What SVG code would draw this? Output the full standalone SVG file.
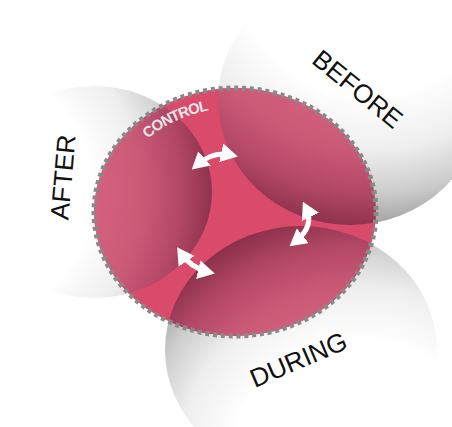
<svg xmlns="http://www.w3.org/2000/svg" width="452" height="427" viewBox="0 0 452 427">
<defs>
<radialGradient id="gA" gradientUnits="userSpaceOnUse" cx="-30" cy="192" r="245">
<stop offset="0" stop-color="#ffffff"/><stop offset="0.5" stop-color="#ffffff"/><stop offset="0.7" stop-color="#efefef"/><stop offset="0.86" stop-color="#cdcdcd"/><stop offset="1" stop-color="#9c9c9c"/>
</radialGradient>
<radialGradient id="pA" gradientUnits="userSpaceOnUse" cx="-30" cy="192" r="245">
<stop offset="0" stop-color="#d86684"/><stop offset="0.5" stop-color="#d4617f"/><stop offset="0.7" stop-color="#cb5a77"/><stop offset="0.86" stop-color="#b24866"/><stop offset="1" stop-color="#8c304b"/>
</radialGradient>
<radialGradient id="gB" gradientUnits="userSpaceOnUse" cx="370" cy="-40" r="270">
<stop offset="0" stop-color="#ffffff"/><stop offset="0.5" stop-color="#ffffff"/><stop offset="0.7" stop-color="#efefef"/><stop offset="0.86" stop-color="#cdcdcd"/><stop offset="1" stop-color="#9c9c9c"/>
</radialGradient>
<radialGradient id="pB" gradientUnits="userSpaceOnUse" cx="370" cy="-40" r="270">
<stop offset="0" stop-color="#d86684"/><stop offset="0.5" stop-color="#d4617f"/><stop offset="0.7" stop-color="#cb5a77"/><stop offset="0.86" stop-color="#b24866"/><stop offset="1" stop-color="#8c304b"/>
</radialGradient>
<radialGradient id="gD" gradientUnits="userSpaceOnUse" cx="360" cy="470" r="260">
<stop offset="0" stop-color="#ffffff"/><stop offset="0.5" stop-color="#ffffff"/><stop offset="0.7" stop-color="#efefef"/><stop offset="0.86" stop-color="#cdcdcd"/><stop offset="1" stop-color="#9c9c9c"/>
</radialGradient>
<radialGradient id="pD" gradientUnits="userSpaceOnUse" cx="360" cy="470" r="260">
<stop offset="0" stop-color="#d86684"/><stop offset="0.5" stop-color="#d4617f"/><stop offset="0.7" stop-color="#cb5a77"/><stop offset="0.86" stop-color="#b24866"/><stop offset="1" stop-color="#8c304b"/>
</radialGradient>
<clipPath id="clipE"><ellipse cx="235" cy="212" rx="141" ry="124"/></clipPath>
<marker id="head" markerUnits="userSpaceOnUse" markerWidth="17" markerHeight="19" refX="10" refY="9.5" orient="auto-start-reverse" viewBox="0 0 17 19">
<path d="M0,0 L17,9.5 L0,19 z" fill="#ffffff"/>
</marker>
<path id="ctrlArc" d="M 111 214 A 124 106 0 0 1 359 214"/>
</defs>
<style>
.lbl{font-family:"Liberation Sans",Arial,sans-serif;font-size:26px;fill:#111111;text-anchor:middle}
.ctrl{font-family:"Liberation Sans",Arial,sans-serif;font-size:15px;font-weight:bold;fill:#e8e8e8;letter-spacing:-1px;text-anchor:middle}
.arrow{fill:none;stroke:#ffffff;stroke-width:5;marker-start:url(#head);marker-end:url(#head)}
</style>
<g id="after">
<ellipse cx="94" cy="192" rx="118" ry="106" fill="url(#gA)"/>
<text class="lbl" transform="translate(72,178) rotate(-85)">AFTER</text>
</g>
<g id="before">
<ellipse cx="350" cy="100" rx="132" ry="125" fill="url(#gB)"/>
<text class="lbl" transform="translate(352,96) rotate(39)">BEFORE</text>
</g>
<g id="during">
<ellipse cx="301" cy="350" rx="136" ry="124" fill="url(#gD)"/>
<text class="lbl" transform="translate(302,368) rotate(-23)">DURING</text>
</g>
<g id="control">
<ellipse cx="235" cy="212" rx="141" ry="124" fill="#d94a6b"/>
<g clip-path="url(#clipE)">
<ellipse cx="94" cy="192" rx="118" ry="106" fill="url(#pA)"/>
<ellipse cx="350" cy="100" rx="132" ry="125" fill="url(#pB)"/>
<ellipse cx="301" cy="350" rx="136" ry="124" fill="url(#pD)"/>
</g>
<ellipse cx="235" cy="212" rx="141" ry="124" fill="none" stroke="#898989" stroke-width="5" stroke-dasharray="4 3.8"/>
<text class="ctrl"><textPath href="#ctrlArc" startOffset="120">CONTROL</textPath></text>
</g>
<g id="connectors">
<path class="arrow" d="M 197 165 Q 213 151 231 155"/>
<path class="arrow" d="M 306 208 Q 315 226 295 242"/>
<path class="arrow" d="M 181 253 Q 191 268 208 272"/>
</g>
</svg>
